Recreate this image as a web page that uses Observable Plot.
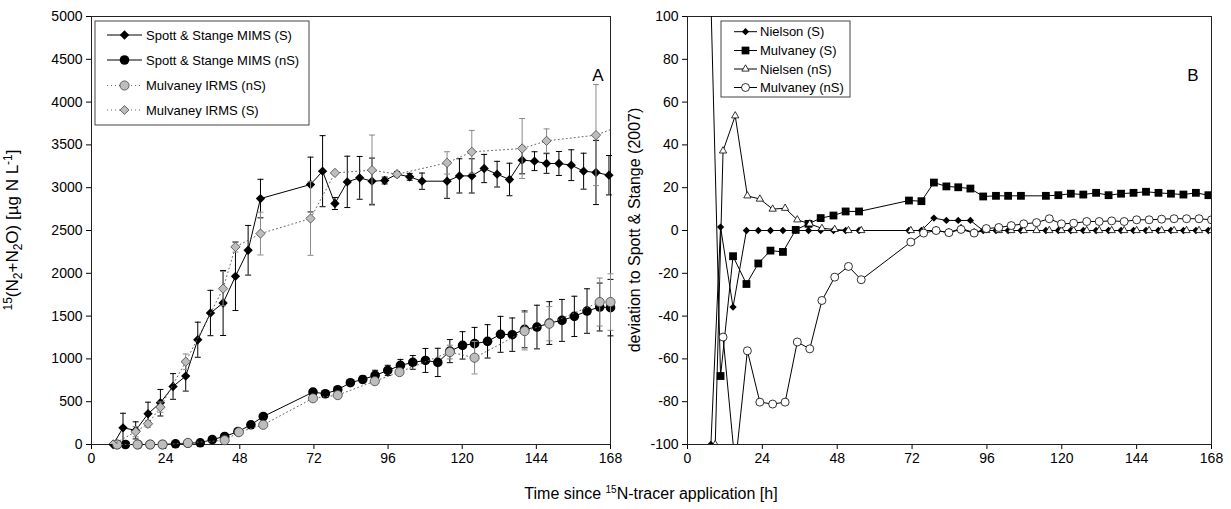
<!DOCTYPE html>
<html><head><meta charset="utf-8">
<script src="https://cdn.jsdelivr.net/npm/d3@7"></script>
<script src="https://cdn.jsdelivr.net/npm/@observablehq/plot@0.6"></script>
<style>
body{margin:0;background:#fff;font-family:"Liberation Sans",Arial,sans-serif;overflow:hidden;}
#wrap{position:relative;width:1231px;height:509px;overflow:hidden;}
#a{position:absolute;left:0;top:0;}
#b{position:absolute;left:615px;top:0;}
#xt{position:absolute;left:451px;width:400px;top:485px;text-align:center;font-size:16px;color:#000;}
#xt sup{font-size:10px;vertical-align:6px;line-height:0;}
</style></head><body>
<div id="wrap"><div id="a"></div><div id="b"></div>
<div id="xt">Time since <sup>15</sup>N-tracer application [h]</div></div>
<script>
// ---------- Panel A data ----------
const xTicks = [0, 24, 48, 72, 96, 120, 144, 168];
const yTicksA = [0, 500, 1000, 1500, 2000, 2500, 3000, 3500, 4000, 4500, 5000];
const yTicksB = [-100, -80, -60, -40, -20, 0, 20, 40, 60, 80, 100];

const hoursS_A = [7, 10.2, 14.3, 18.3, 22.3, 26.4, 30.5, 34.4, 38.5, 42.6, 46.6, 50.7, 54.7, 70.9, 74.8, 78.8, 82.8, 86.8, 90.8, 94.9, 98.9, 103, 107, 115.1, 119.1, 123.1, 127.1, 131.3, 135.3, 139.4, 143.4, 147.3, 151.3, 155.3, 159.3, 163.3, 167.5];
const spottS = [0, 195, 165, 359, 488, 678, 799, 1224, 1536, 1653, 1965, 2269, 2873, 3037, 3193, 2815, 3068, 3115, 3076, 3084, 3158, 3127, 3076, 3076, 3138, 3138, 3224, 3158, 3096, 3322, 3310, 3283, 3283, 3263, 3193, 3178, 3146];
const spottS_err = [0, 170, 100, 135, 155, 150, 175, 205, 265, 380, 400, 290, 225, 320, 415, 70, 300, 250, 270, 40, 30, 40, 95, 200, 200, 200, 165, 150, 190, 160, 110, 115, 140, 180, 210, 375, 230];

const hoursMulvS_A = [7, 14.3, 18.3, 22.3, 30.5, 42.6, 46.6, 54.7, 70.9, 78.8, 90.8, 98.9, 115.1, 123.1, 139.4, 147.3, 163.3, 171];
const mulvS = [0, 150, 242, 436, 967, 1821, 2308, 2464, 2640, 3173, 3205, 3158, 3290, 3419, 3458, 3547, 3614, 3720];
const mulvS_err = [0, 60, 40, 60, 90, 200, 60, 250, 430, 0, 410, 20, 130, 250, 350, 140, 590, 0];

const hoursN_A = [8.3, 11, 15, 19, 23, 27.2, 31.2, 35.2, 39.1, 43.1, 47.4, 51.6, 55.6, 71.7, 75.7, 79.7, 83.8, 87.8, 91.8, 95.9, 100, 104, 108.1, 112.1, 116, 120.1, 124, 128.2, 132.4, 136.2, 140.2, 144.2, 148.2, 152.3, 156.3, 160.4, 164.5, 168];
const spottN = [0, 0, 0, 0, 0, 8, 15, 20, 58, 94, 150, 230, 327, 612, 593, 640, 722, 760, 807, 865, 924, 959, 982, 959, 1091, 1158, 1178, 1205, 1287, 1283, 1345, 1372, 1419, 1450, 1497, 1559, 1606, 1599];
const spottN_err = [0, 0, 0, 0, 0, 0, 0, 0, 0, 0, 0, 20, 25, 40, 30, 30, 35, 40, 60, 60, 70, 80, 140, 165, 135, 160, 190, 195, 210, 195, 215, 255, 250, 245, 235, 260, 280, 330];

const hoursMulvN_A = [8.3, 14.9, 19, 23, 31.2, 43.1, 47.7, 55.6, 71.7, 79.7, 91.7, 99.7, 116, 124, 140.2, 148.2, 164.5, 168];
const mulvN = [0, 0, 0, 0, 18, 50, 144, 230, 540, 577, 740, 846, 1080, 1014, 1325, 1411, 1664, 1664];
const mulvN_err = [0, 0, 0, 0, 0, 0, 0, 0, 0, 0, 0, 0, 80, 190, 220, 200, 280, 330];

// ---------- Panel B data ----------
const hoursS_B = [7.5, 10.6, 14.6, 18.9, 22.7, 26.6, 30.6, 34.7, 38.8, 42.7, 46.8, 50.7, 55, 71, 75, 79, 83, 86.8, 90.7, 94.8, 98.9, 102.8, 106.9, 114.9, 118.9, 122.9, 126.9, 131, 135, 139, 143, 147, 151, 155, 159, 163, 167];
const nielsonS = [-100, 1.6, -35.8, 0, 0, 0, 0, 0, 0, 0, 0, 0, 0, 0, 0, 5.8, 4.7, 4.7, 4.7, 0, 0, 0, 0, 0, 0, 0, 0, 0, 0, 0, 0, 0, 0, 0, 0, 0, 0];
const mulvaneyS = [108, -68, -12, -25, -15.4, -9.4, -10, 0.3, 3.1, 5.8, 7, 8.9, 8.9, 14, 13.7, 22.4, 20.6, 20.2, 19.6, 15.9, 16.2, 16.2, 16.2, 16.2, 16.5, 17.2, 16.8, 17.6, 16.5, 17.2, 17.6, 18.1, 17.6, 17.2, 16.8, 17.6, 16.5];

const hoursN_B = [8.9, 11.4, 15.3, 19.2, 23.2, 27.3, 31.3, 35.2, 39.2, 43.1, 47.2, 51.6, 55.7, 71.6, 75.7, 79.7, 83.8, 87.7, 91.9, 95.8, 99.8, 103.8, 107.8, 111.9, 116, 119.9, 123.8, 128, 132, 136, 140, 144, 148, 152, 156, 160, 164, 168];
const nielsenN = [-100, 37.2, 53.6, 16.2, 14.7, 10, 10.4, 5, 3.1, 1, 0.5, 0, 0, 0, 0, 0, -1, 1, -1, 0, 0, 0, 0, 0, 0, 0, 0, 0, 0, 0, 0, 0, 0, 0, 0, 0, 0, 0];
const mulvaneyN = [null, -49.8, -110, -56.2, -80.2, -81.1, -80.2, -52.1, -55.3, -32.7, -21.8, -16.8, -23, -5.4, -1.2, 0, -1, 0.5, -1.2, 0.9, 1.4, 2.3, 3.1, 3.7, 5.5, 3.1, 3.4, 4.2, 4.2, 4.5, 4.2, 5, 5, 5.3, 5.5, 5.5, 5.5, 5];

// ---------- helpers ----------
const FONT = "Liberation Sans, Arial, sans-serif";
const rows = (hs, vs, es) => hs.map((h, i) => ({h, v: vs[i], e: es ? es[i] : 0})).filter(d => d.v != null);
const capSymbol = {draw(ctx, size) { const w = Math.sqrt(size / Math.PI); ctx.moveTo(-w, 0); ctx.lineTo(w, 0); }};

function errMarks(data, color) {
  const withErr = data.filter(d => d.e > 0);
  const caps = withErr.flatMap(d => [{h: d.h, y: d.v - d.e}, {h: d.h, y: d.v + d.e}]);
  return [
    Plot.ruleX(withErr, {x: "h", y1: d => d.v - d.e, y2: d => d.v + d.e, stroke: color, strokeWidth: 1}),
    Plot.dot(caps, {x: "h", y: "y", symbol: capSymbol, r: 3, stroke: color, fill: "none", strokeWidth: 1})
  ];
}

const H = 476, BOTTOM = 444;
function base(width, ml, mr, ydom, yticks, marks) {
  return Plot.plot({
    width, height: H, marginLeft: ml, marginRight: mr, marginTop: 16, marginBottom: H - BOTTOM,
    style: {fontFamily: FONT, fontSize: "14px", color: "#000", background: "transparent", overflow: "visible"},
    x: {domain: [0, 168], ticks: xTicks, tickFormat: d => String(d), tickSize: 5, label: null},
    y: {domain: ydom, ticks: yticks, tickFormat: d => String(d), tickSize: 5, label: null},
    marks: [Plot.frame({stroke: "#222", strokeWidth: 1}), ...marks]
  });
}

function addLegend(svg, box, items, lx1, lx2, tx) {
  const g = d3.select(svg).append("g").attr("font-family", FONT).attr("font-size", 13).attr("text-anchor", "start");
  g.append("rect").attr("x", box[0]).attr("y", box[1]).attr("width", box[2]).attr("height", box[3])
    .attr("fill", "#fff").attr("stroke", "#444").attr("stroke-width", 1);
  items.forEach(it => {
    g.append("line").attr("x1", lx1).attr("x2", lx2).attr("y1", it.y).attr("y2", it.y)
      .attr("stroke", it.lineColor || "#000").attr("stroke-width", 1).attr("stroke-dasharray", it.dash || null);
    g.append("path").attr("d", d3.symbol(it.sym, it.size)())
      .attr("transform", `translate(${(lx1 + lx2) / 2},${it.y})`)
      .attr("fill", it.fill).attr("stroke", it.stroke || "none").attr("stroke-width", it.sw || 1);
    g.append("text").attr("x", tx).attr("y", it.y).attr("dy", "0.35em").attr("text-anchor", "start").text(it.label);
  });
}

function addYTitle(svg, x, y, parts, fs, fsSmall) {
  const t = d3.select(svg).append("text").attr("transform", `translate(${x},${y}) rotate(-90)`)
    .attr("text-anchor", "middle").attr("font-family", FONT).attr("font-size", fs).attr("fill", "#000");
  let shift = 0;
  parts.forEach(p => {
    const target = p.s === "sup" ? -6 : p.s === "sub" ? 4 : 0;
    t.append("tspan").attr("dy", target - shift).attr("font-size", p.s ? fsSmall : fs).text(p.t);
    shift = target;
  });
}

function addLabel(svg, x, y, txt) {
  d3.select(svg).append("text").attr("x", x).attr("y", y).attr("dy", "0.35em").attr("text-anchor", "middle")
    .attr("font-family", FONT).attr("font-size", 17).text(txt);
}

// ---------- Panel A ----------
const dSpS = rows(hoursS_A, spottS, spottS_err);
const dSpN = rows(hoursN_A, spottN, spottN_err);
const dMuN = rows(hoursMulvN_A, mulvN, mulvN_err);
const dMuS = rows(hoursMulvS_A, mulvS, mulvS_err);
const GRAYFILL = "#bdbdbd", GRAYERR = "#8a8a8a";

const plotA = base(615, 91, 5, [0, 5000], yTicksA, [
  ...errMarks(dSpS, "#000"),
  Plot.line(dSpS, {x: "h", y: "v", stroke: "#000", strokeWidth: 1}),
  Plot.dot(dSpS, {x: "h", y: "v", symbol: "diamond2", r: 4.2, fill: "#000", stroke: "none"}),
  ...errMarks(dSpN, "#000"),
  Plot.line(dSpN, {x: "h", y: "v", stroke: "#000", strokeWidth: 1}),
  Plot.dot(dSpN, {x: "h", y: "v", r: 4.8, fill: "#000", stroke: "none"}),
  ...errMarks(dMuN, GRAYERR),
  Plot.line(dMuN, {x: "h", y: "v", stroke: "#666", strokeWidth: 1, strokeDasharray: "1,3"}),
  Plot.dot(dMuN, {x: "h", y: "v", r: 4.6, fill: GRAYFILL, stroke: "#444", strokeWidth: 0.8}),
  ...errMarks(dMuS, GRAYERR),
  Plot.line(dMuS, {x: "h", y: "v", stroke: "#666", strokeWidth: 1, strokeDasharray: "1,3", clip: true}),
  Plot.dot(dMuS, {x: "h", y: "v", symbol: "diamond2", r: 4.2, fill: GRAYFILL, stroke: "#444", strokeWidth: 0.8, clip: true})
]);
addLegend(plotA, [95, 21, 214, 104], [
  {y: 35, label: "Spott & Stange MIMS (S)", sym: d3.symbolDiamond2, size: 58, fill: "#000"},
  {y: 60, label: "Spott & Stange MIMS (nS)", sym: d3.symbolCircle, size: 72, fill: "#000"},
  {y: 85.5, label: "Mulvaney IRMS (nS)", sym: d3.symbolCircle, size: 66, fill: GRAYFILL, stroke: "#444", sw: 0.8, dash: "1,3", lineColor: "#666"},
  {y: 110, label: "Mulvaney IRMS (S)", sym: d3.symbolDiamond2, size: 50, fill: GRAYFILL, stroke: "#444", sw: 0.8, dash: "1,3", lineColor: "#666"}
], 107, 142, 146);
addYTitle(plotA, 18, 230, [
  {t: "15", s: "sup"}, {t: "(N"}, {t: "2", s: "sub"}, {t: "+N"}, {t: "2", s: "sub"}, {t: "O) [µg N L"}, {t: "-1", s: "sup"}, {t: "]"}
], 17, 12);
addLabel(plotA, 598, 75, "A");
document.getElementById("a").appendChild(plotA);

// ---------- Panel B ----------
const dNiS = rows(hoursS_B, nielsonS);
const dMvS = rows(hoursS_B, mulvaneyS);
const dNiN = rows(hoursN_B, nielsenN);
const dMvN = rows(hoursN_B, mulvaneyN);

const plotB = base(616, 72, 20, [-100, 100], yTicksB, [
  Plot.line(dNiS, {x: "h", y: "v", stroke: "#000", strokeWidth: 1, clip: true}),
  Plot.dot(dNiS, {x: "h", y: "v", symbol: "diamond2", r: 3.3, fill: "#000", stroke: "none", clip: true}),
  Plot.line(dMvS, {x: "h", y: "v", stroke: "#000", strokeWidth: 1, clip: true}),
  Plot.dot(dMvS, {x: "h", y: "v", symbol: "square", r: 4.4, fill: "#000", stroke: "none", clip: true}),
  Plot.line(dNiN, {x: "h", y: "v", stroke: "#000", strokeWidth: 1, clip: true}),
  Plot.dot(dNiN, {x: "h", y: "v", symbol: "triangle", r: 2.7, fill: "#fff", stroke: "#000", strokeWidth: 0.8, clip: true}),
  Plot.line(dMvN, {x: "h", y: "v", stroke: "#000", strokeWidth: 1, clip: true}),
  Plot.dot(dMvN, {x: "h", y: "v", r: 4, fill: "#fff", stroke: "#000", strokeWidth: 0.8, clip: true})
]);
addLegend(plotB, [106, 21, 129, 76], [
  {y: 31.7, label: "Nielson (S)", sym: d3.symbolDiamond2, size: 34, fill: "#000"},
  {y: 50.5, label: "Mulvaney (S)", sym: d3.symbolSquare, size: 60, fill: "#000"},
  {y: 69, label: "Nielsen (nS)", sym: d3.symbolTriangle, size: 23, fill: "#fff", stroke: "#000", sw: 0.8},
  {y: 87.5, label: "Mulvaney (nS)", sym: d3.symbolCircle, size: 50, fill: "#fff", stroke: "#000", sw: 0.8}
], 119, 142, 145);
addYTitle(plotB, 25, 230, [{t: "deviation to Spott & Stange (2007)"}], 16, 11);
addLabel(plotB, 578, 75, "B");
document.getElementById("b").appendChild(plotB);
</script>
</body></html>
